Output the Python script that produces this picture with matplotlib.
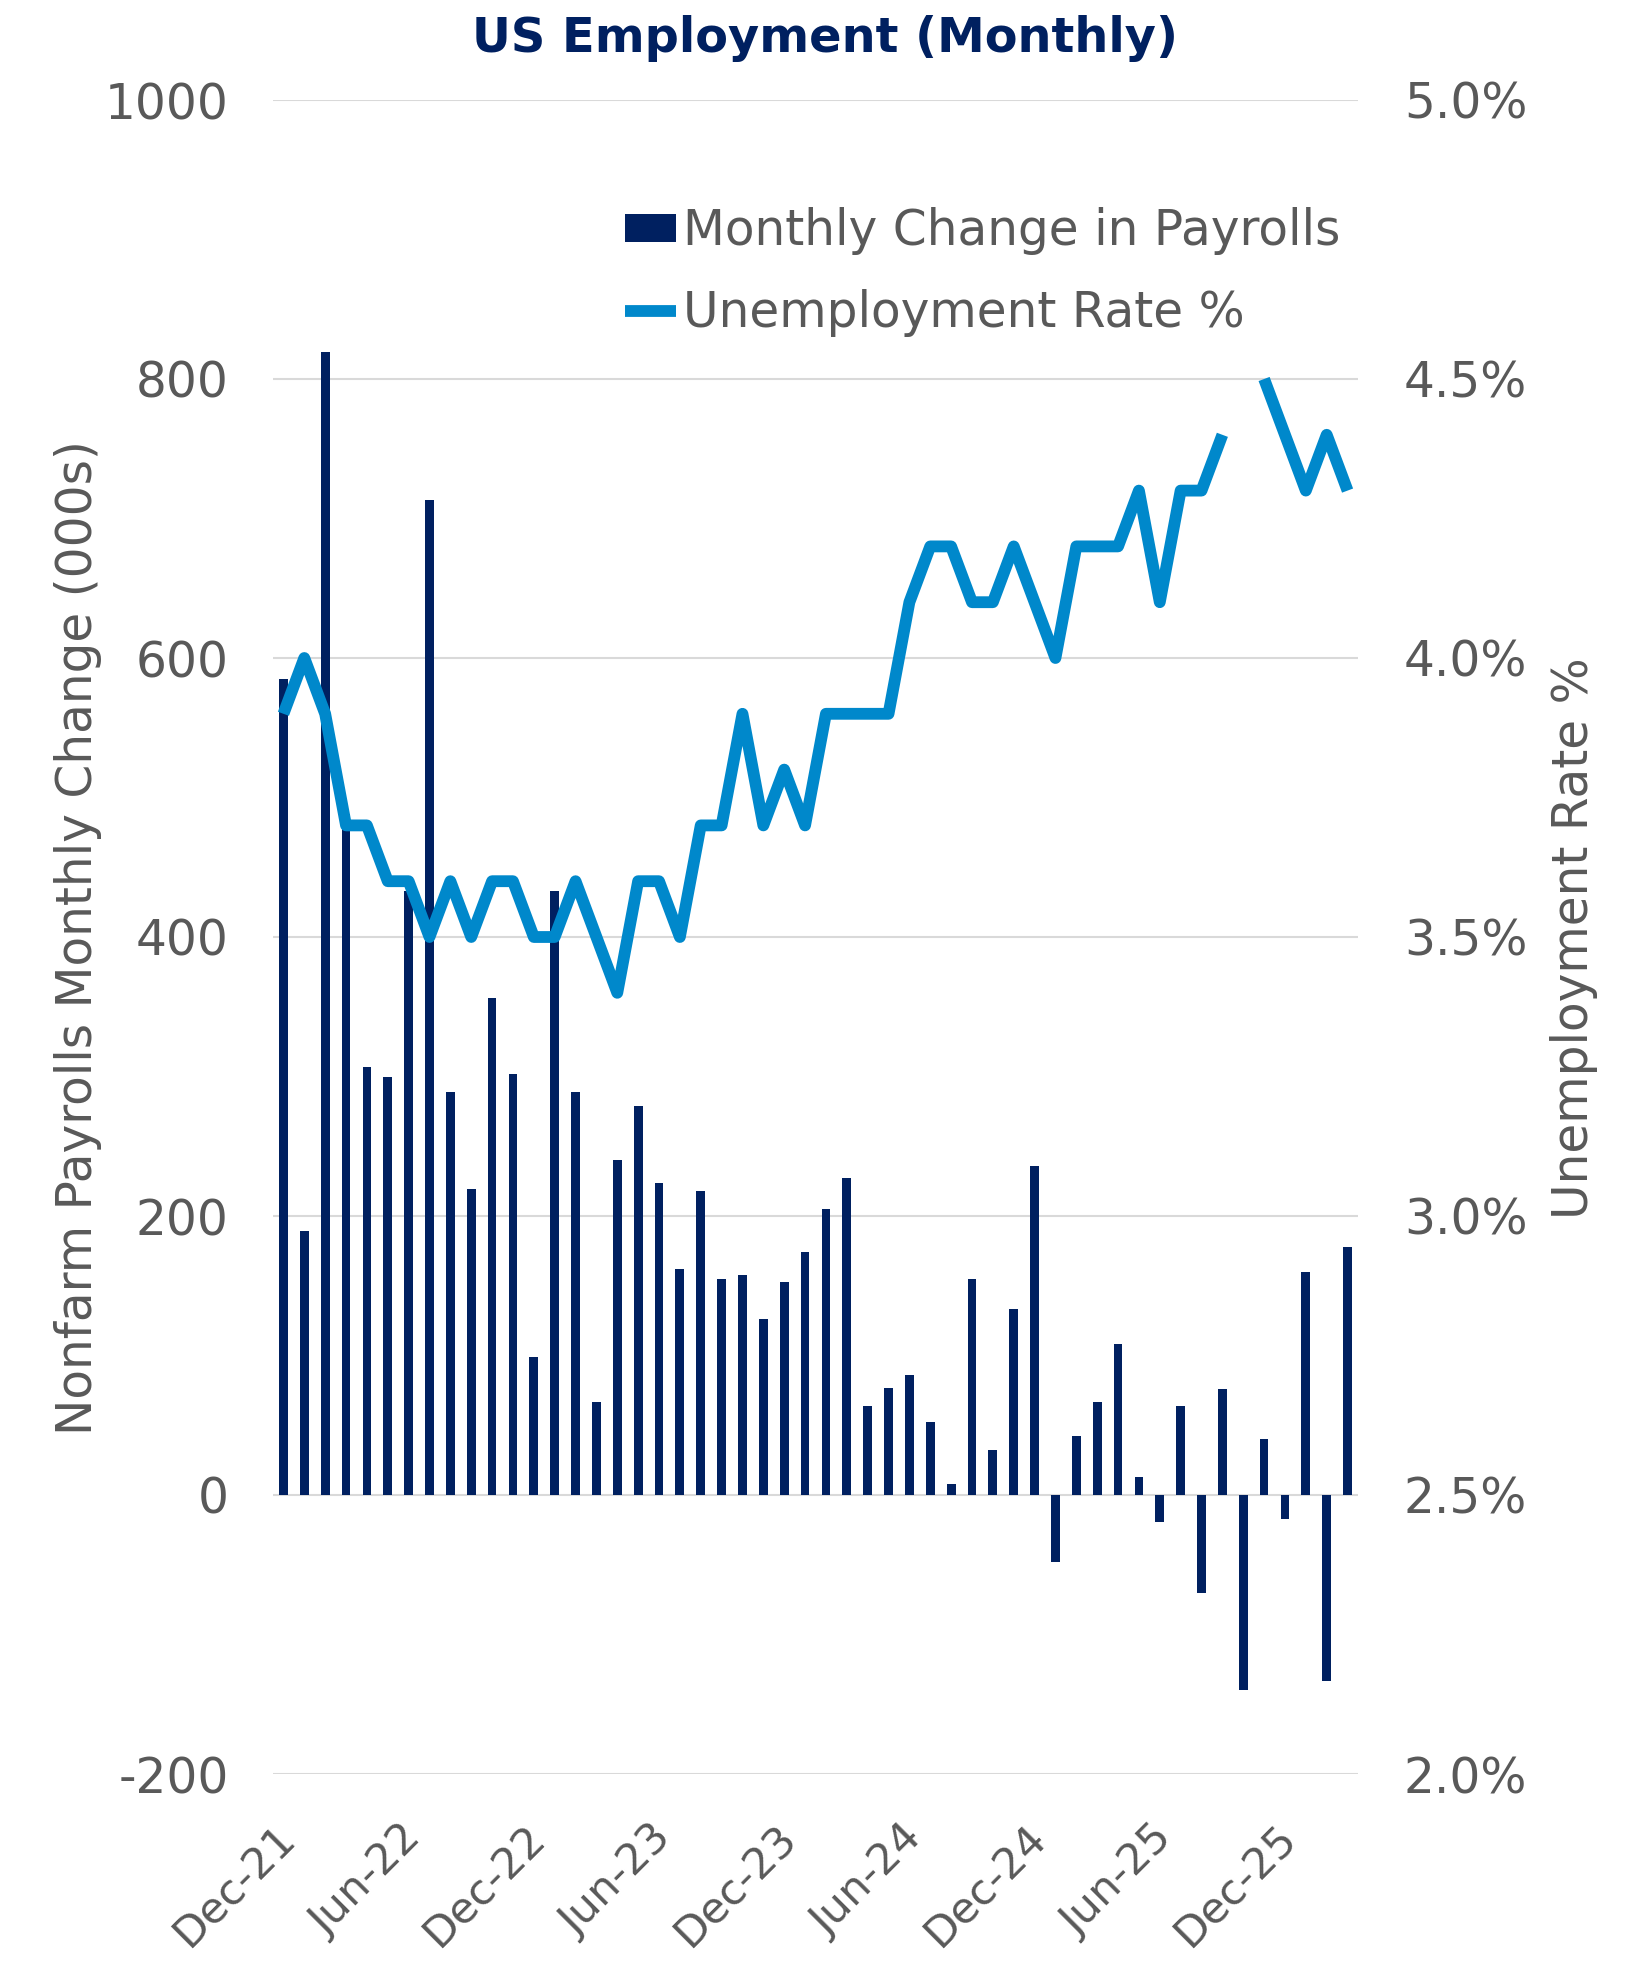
"""
US Employment (Monthly): payroll changes as bars, unemployment rate as a line.
"""

import matplotlib
import matplotlib.pyplot as plt
import matplotlib.transforms as mtransforms
import numpy as np

matplotlib.use("Agg")

NAVY = "#002060"
BLUE = "#0088CB"
GREY_TEXT = "#595959"
GRID = "#D9D9D9"

# Months Dec-21 .. Mar-26
months = [
    "Dec-21", "Jan-22", "Feb-22", "Mar-22", "Apr-22", "May-22", "Jun-22",
    "Jul-22", "Aug-22", "Sep-22", "Oct-22", "Nov-22", "Dec-22", "Jan-23",
    "Feb-23", "Mar-23", "Apr-23", "May-23", "Jun-23", "Jul-23", "Aug-23",
    "Sep-23", "Oct-23", "Nov-23", "Dec-23", "Jan-24", "Feb-24", "Mar-24",
    "Apr-24", "May-24", "Jun-24", "Jul-24", "Aug-24", "Sep-24", "Oct-24",
    "Nov-24", "Dec-24", "Jan-25", "Feb-25", "Mar-25", "Apr-25", "May-25",
    "Jun-25", "Jul-25", "Aug-25", "Sep-25", "Oct-25", "Nov-25", "Dec-25",
    "Jan-26", "Feb-26", "Mar-26",
]

# Monthly change in nonfarm payrolls (000s)
payrolls = [
    585, 189, 819, 488, 307, 300, 433, 713, 289, 219, 356, 302, 99,
    433, 289, 67, 240, 279, 224, 162, 218, 155, 158, 126, 153, 174,
    205, 227, 64, 77, 86, 52, 8, 155, 32, 133, 236, -48, 42, 67,
    108, 13, -19, 64, -70, 76, -140, 40, -17, 160, -133, 178,
]

# Unemployment rate (%), October 2025 not published
unemployment = [
    3.9, 4.0, 3.9, 3.7, 3.7, 3.6, 3.6, 3.5, 3.6, 3.5, 3.6, 3.6, 3.5,
    3.5, 3.6, 3.5, 3.4, 3.6, 3.6, 3.5, 3.7, 3.7, 3.9, 3.7, 3.8, 3.7,
    3.9, 3.9, 3.9, 3.9, 4.1, 4.2, 4.2, 4.1, 4.1, 4.2, 4.1, 4.0, 4.2,
    4.2, 4.2, 4.3, 4.1, 4.3, 4.3, 4.4, np.nan, 4.5, 4.4, 4.3, 4.4, 4.3,
]

left_ticks = [-200, 0, 200, 400, 600, 800, 1000]
right_ticks = [2.0, 2.5, 3.0, 3.5, 4.0, 4.5, 5.0]

plt.rcParams["font.family"] = ["DejaVu Sans"]
FS = 35

fig = plt.figure(figsize=(16.5, 19.62), dpi=100)
ax = fig.add_axes([273 / 1650, 188 / 1962, 1085 / 1650, 1674 / 1962])
ax2 = ax.twinx()

x = np.arange(len(months))
bars = ax.bar(x, payrolls, width=0.42, color=NAVY, label="Monthly Change in Payrolls")
line, = ax2.plot(x, unemployment, color=BLUE, linewidth=8.5,
                 solid_joinstyle="round", solid_capstyle="butt",
                 label="Unemployment Rate %")

ax.set_xlim(-0.5, len(months) - 0.5)
ax.set_ylim(-200, 1000)
ax2.set_ylim(2.0, 5.0)
ax.set_yticks(left_ticks)
ax.set_yticklabels([str(t) for t in left_ticks])
ax2.set_yticks(right_ticks)
ax2.set_yticklabels([f"{t:.1f}%" for t in right_ticks])

ax.set_axisbelow(True)
ax.grid(axis="y", color=GRID, linewidth=1.5)
ax.grid(axis="x", visible=False)

for a in (ax, ax2):
    for s in a.spines.values():
        s.set_visible(False)
    a.tick_params(length=0, labelsize=FS, labelcolor=GREY_TEXT)
ax.tick_params(axis="y", pad=32)
ax2.tick_params(axis="y", pad=33)

# x ticks every six months, slanted
tick_idx = list(range(0, len(months), 6))
ax.set_xticks(tick_idx)
ax.set_xticklabels([months[i] for i in tick_idx], rotation=45,
                   ha="right", va="top", rotation_mode="anchor")
ax.tick_params(axis="x", pad=31, labelsize=31)
offset = mtransforms.ScaledTranslation(-0.09, 0, fig.dpi_scale_trans)
for lbl in ax.get_xticklabels():
    lbl.set_transform(lbl.get_transform() + offset)

fig.text(0.5, 1 - 39 / 1962, "US Employment (Monthly)", ha="center", va="center",
         fontsize=34.5, fontweight="bold", color=NAVY)
fig.text(78 / 1650, 0.5 + (981 - 938) / 1962, "Nonfarm Payrolls Monthly Change (000s)",
         rotation=90, ha="center", va="center", fontsize=FS, color=GREY_TEXT)
fig.text(1574 / 1650, 0.5 + (981 - 938) / 1962, "Unemployment Rate %",
         rotation=90, ha="center", va="center", fontsize=FS, color=GREY_TEXT)

leg = ax2.legend([bars, line], [bars.get_label(), line.get_label()],
                 loc="upper left", bbox_to_anchor=(625 / 1650, 1 - 207 / 1962),
                 bbox_transform=fig.transFigure, frameon=False, fontsize=FS,
                 handlelength=1.05, handleheight=0.5, handletextpad=0.15,
                 borderpad=0, borderaxespad=0, labelspacing=0.69)
for t in leg.get_texts():
    t.set_color(GREY_TEXT)

fig.savefig("out.png", dpi=100)
plt.close(fig)
